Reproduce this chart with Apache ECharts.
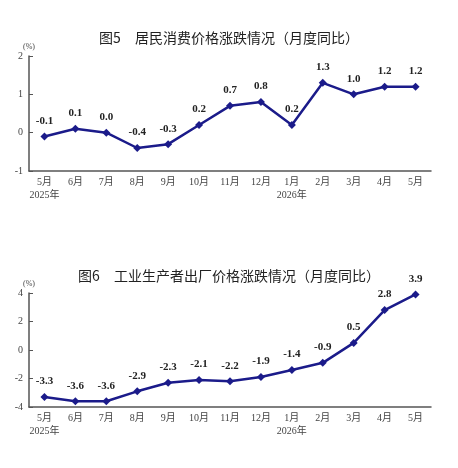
<!DOCTYPE html>
<html>
<head>
<meta charset="utf-8">
<script src="https://cdn.jsdelivr.net/npm/echarts@6/dist/echarts.min.js"></script>
<style>
  html, body { margin: 0; padding: 0; background: #fff; }
  #chart { width: 458px; height: 468px; }
</style>
</head>
<body>
<div id="chart"></div>
<script>
const months = ['5月', '6月', '7月', '8月', '9月', '10月', '11月', '12月', '1月', '2月', '3月', '4月', '5月']
const yearLabels = { 0: '2025年', 8: '2026年' }
const cpiValues = [-0.1, 0.1, 0.0, -0.4, -0.3, 0.2, 0.7, 0.8, 0.2, 1.3, 1.0, 1.2, 1.2]
const ppiValues = [-3.3, -3.6, -3.6, -2.9, -2.3, -2.1, -2.2, -1.9, -1.4, -0.9, 0.5, 2.8, 3.9]
const cpiTitle = '图5　居民消费价格涨跌情况（月度同比）'
const ppiTitle = '图6　工业生产者出厂价格涨跌情况（月度同比）'

const lineColor = '#1b1b8a'
const serif = '"Liberation Serif", "DejaVu Serif", "Noto Sans CJK SC", serif'

function xAxisFor(gridIndex) {
  return {
    type: 'category',
    gridIndex: gridIndex,
    data: months,
    boundaryGap: true,
    axisLine: { onZero: false, lineStyle: { color: '#555', width: 1.5 } },
    axisTick: { inside: true, length: 4, interval: 0, lineStyle: { color: '#555' } },
    axisLabel: {
      interval: 0,
      margin: 5,
      color: '#444',
      fontFamily: serif,
      fontSize: 10,
      lineHeight: 13,
      formatter: function(value, index) {
        return yearLabels[index] ? value + '\n' + yearLabels[index] : value
      }
    }
  }
}

function yAxisFor(gridIndex, min, max, interval) {
  return {
    type: 'value',
    gridIndex: gridIndex,
    min: min,
    max: max,
    interval: interval,
    name: '(%)',
    nameGap: 4,
    nameTextStyle: { color: '#444', fontSize: 8, fontFamily: serif, align: 'center' },
    axisLine: { show: true, lineStyle: { color: '#555', width: 1.5 } },
    axisTick: { show: true, inside: true, length: 4, lineStyle: { color: '#555' } },
    splitLine: { show: false },
    axisLabel: { color: '#444', fontFamily: serif, fontSize: 10, margin: 6 }
  }
}

function seriesFor(index, values) {
  return {
    type: 'line',
    xAxisIndex: index,
    yAxisIndex: index,
    data: values,
    symbol: 'diamond',
    symbolSize: 8,
    lineStyle: { color: lineColor, width: 2.5 },
    itemStyle: { color: lineColor },
    label: {
      show: true,
      position: 'top',
      distance: 6,
      color: '#222',
      fontFamily: serif,
      fontWeight: 'bold',
      fontSize: 11,
      formatter: function(p) { return p.value.toFixed(1) }
    },
    animation: false
  }
}

const chart = echarts.init(document.getElementById('chart'))
chart.setOption({
  title: [
    { text: cpiTitle, left: 'center', top: 26, textStyle: { fontSize: 14, fontWeight: 'normal', color: '#222', fontFamily: '"Noto Sans CJK SC", sans-serif' } },
    { text: ppiTitle, left: 'center', top: 264, textStyle: { fontSize: 14, fontWeight: 'normal', color: '#222', fontFamily: '"Noto Sans CJK SC", sans-serif' } }
  ],
  grid: [
    { left: 29, right: 27, top: 56, height: 115 },
    { left: 29, right: 27, top: 293, height: 114 }
  ],
  xAxis: [xAxisFor(0), xAxisFor(1)],
  yAxis: [yAxisFor(0, -1, 2, 1), yAxisFor(1, -4, 4, 2)],
  series: [seriesFor(0, cpiValues), seriesFor(1, ppiValues)]
})
</script>
</body>
</html>
